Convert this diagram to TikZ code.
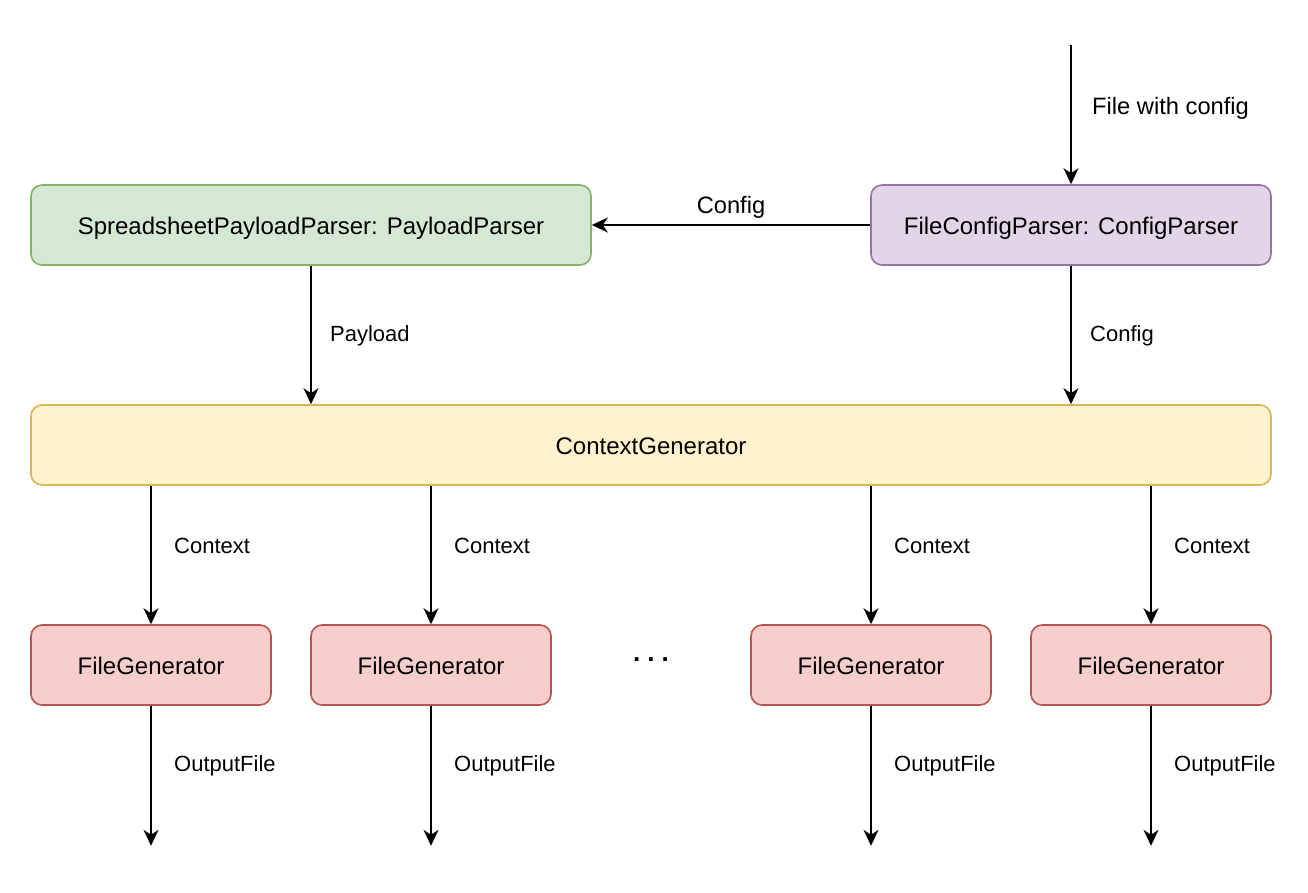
\documentclass[tikz,border=0pt]{standalone}
\usepackage{fontspec}
\setmainfont{Liberation Sans}
\usetikzlibrary{arrows.meta}
\tikzset{
  box/.style={draw, line width=1.6pt, rounded corners=11pt, minimum height=80pt, inner sep=0pt, text height=22pt, text depth=4pt, font=\fontsize{24}{28}\selectfont},
  green/.style={box, fill=gfill, draw=gdraw},
  purple/.style={box, fill=pfill, draw=pdraw},
  yellow/.style={box, fill=yfill, draw=ydraw},
  red/.style={box, fill=rfill, draw=rdraw, minimum width=240pt},
  conn/.style={line width=1.6pt, -{Stealth[length=16pt, width=15pt, inset=5pt]}},
  lbl/.style={font=\fontsize{22}{26}\selectfont, inner sep=0pt, anchor=west},
  biglbl/.style={font=\fontsize{23.7}{28}\selectfont, inner sep=0pt},
}
\definecolor{gfill}{HTML}{D5E8D4}\definecolor{gdraw}{HTML}{82B366}
\definecolor{pfill}{HTML}{E1D5E7}\definecolor{pdraw}{HTML}{9673A6}
\definecolor{yfill}{HTML}{FFF2CC}\definecolor{ydraw}{HTML}{D6B656}
\definecolor{rfill}{HTML}{F8CECC}\definecolor{rdraw}{HTML}{B85450}
\begin{document}
\begin{tikzpicture}[x=1pt,y=-1pt]
\useasboundingbox (0,0) rectangle (1308,892);
\node[green, minimum width=560pt] (sp) at (311,225) {SpreadsheetPayloadParser: PayloadParser};
\node[purple, minimum width=400pt] (fc) at (1071,225) {FileConfigParser: ConfigParser};
\node[yellow, minimum width=1240pt] (cg) at (651,445) {ContextGenerator};
\node[red] (f1) at (151,665) {FileGenerator};
\node[red] (f2) at (431,665) {FileGenerator};
\node[red] (f3) at (871,665) {FileGenerator};
\node[red] (f4) at (1151,665) {FileGenerator};
\node[font=\bfseries\fontsize{26}{30}\selectfont, inner sep=0pt] (dots) at (651,660) {.\kern7pt.\kern7pt.};
\coordinate (in) at (1071,45);
\draw[conn] (in) -- (fc.north);
\node[biglbl, anchor=west] at (1092,108) {File with config};
\draw[conn] (fc.west) -- node[biglbl, above=6pt] {Config} (sp.east);
\draw[conn] (sp.south) -- (sp.south |- cg.north);
\node[lbl] at (330,336) {Payload};
\draw[conn] (fc.south) -- (fc.south |- cg.north);
\node[lbl] at (1090,336) {Config};
\foreach \f in {f1,f2,f3,f4}{
  \draw[conn] (cg.south -| \f.north) -- (\f.north);
  \node[lbl] at ([xshift=23pt]\f.north |- 0,546) {Context};
  \coordinate (\f-out) at ([yshift=-140pt]\f.south);
  \draw[conn] (\f.south) -- (\f-out);
  \node[lbl] at ([xshift=23pt]\f.south |- 0,766) {OutputFile};
}
\end{tikzpicture}
\end{document}
